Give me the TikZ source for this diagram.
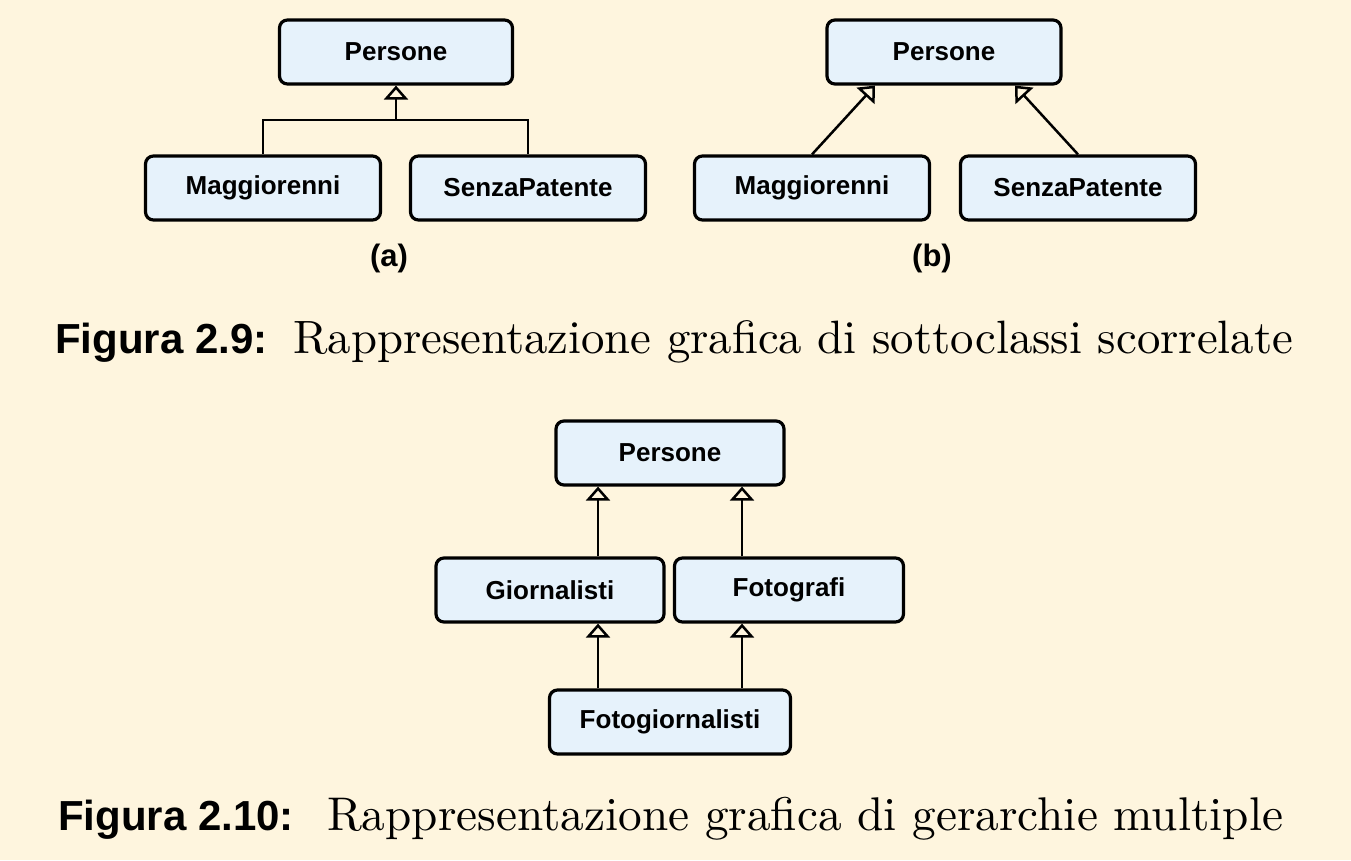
\documentclass[tikz,border=0pt]{standalone}
\usepackage{fontspec}
\usepackage{graphicx}
\newfontfamily\hv{Liberation Sans}
\usetikzlibrary{arrows.meta}
\definecolor{bg}{RGB}{254,245,222}
\definecolor{boxfill}{RGB}{230,242,251}
\tikzset{
  cls/.style={draw=black, line width=3.2pt, rounded corners=8pt, fill=boxfill,
    font=\hv\bfseries\fontsize{26}{31}\selectfont, inner sep=0pt,
    minimum height=64pt},
  isa/.style={line width=2.5pt, -{Triangle[open,length=14pt,width=24pt]}},
  conn/.style={line width=2.5pt},
  sub/.style={font=\hv\bfseries\fontsize{31}{36}\selectfont, inner sep=0pt},
  capl/.style={font=\hv\bfseries\fontsize{42}{48}\selectfont, inner sep=0pt, anchor=base west},
  capt/.style={inner sep=0pt, anchor=base west}
}
\begin{document}
\begin{tikzpicture}[x=1pt,y=-1pt]
\fill[bg] (0,0) rectangle (1351,860);
\useasboundingbox (0,0) rectangle (1351,860);
% ---- (a)
\node[cls, minimum width=233pt] (pa) at (396,52) {Persone};
\node[cls, minimum width=235pt] (ma) at (263,188) {Maggiorenni};
\node[cls, minimum width=235pt] (sa) at (528,188) {SenzaPatente};
\coordinate (ja) at (396,120);
\draw[conn] (ma.north) |- (ja) -| (sa.north);
\draw[isa] (ja) -- (pa.south);
\node[sub] (la) at (389,258) {(a)};
% ---- (b)
\node[cls, minimum width=234pt] (pb) at (944,52) {Persone};
\node[cls, minimum width=235pt] (mb) at (812,188) {Maggiorenni};
\node[cls, minimum width=235pt] (sb) at (1078,188) {SenzaPatente};
\draw[isa] (mb.north) -- ([xshift=-69pt]pb.south);
\draw[isa] (sb.north) -- ([xshift=71pt]pb.south);
\node[sub] (lb) at (932,258) {(b)};
% ---- caption 2.9
\node[capl] (c1a) at (55,353) {Figura 2.9:};
\node[capt] (c1b) at (293,353) {\resizebox{1000pt}{!}{Rappresentazione grafica di sottoclassi scorrelate}};
% ---- Fig 2.10
\node[cls, minimum width=228pt] (pc) at (670,453) {Persone};
\node[cls, minimum width=228pt] (gi) at (550,590) {Giornalisti};
\node[cls, minimum width=229pt] (fo) at (789,590) {Fotografi};
\node[cls, minimum width=241pt] (fg) at (670,722) {Fotogiornalisti};
\draw[isa] ([xshift=48pt]gi.north) -- ([xshift=48pt]gi.north |- pc.south);
\draw[isa] ([xshift=-47pt]fo.north) -- ([xshift=-47pt]fo.north |- pc.south);
\draw[isa] ([xshift=-72pt]fg.north) -- ([xshift=-72pt]fg.north |- gi.south);
\draw[isa] ([xshift=72pt]fg.north) -- ([xshift=72pt]fg.north |- fo.south);
% ---- caption 2.10
\node[capl] (c2a) at (58,830) {Figura 2.10:};
\node[capt] (c2b) at (327,830) {\resizebox{956pt}{!}{Rappresentazione grafica di gerarchie multiple}};
\end{tikzpicture}
\end{document}
